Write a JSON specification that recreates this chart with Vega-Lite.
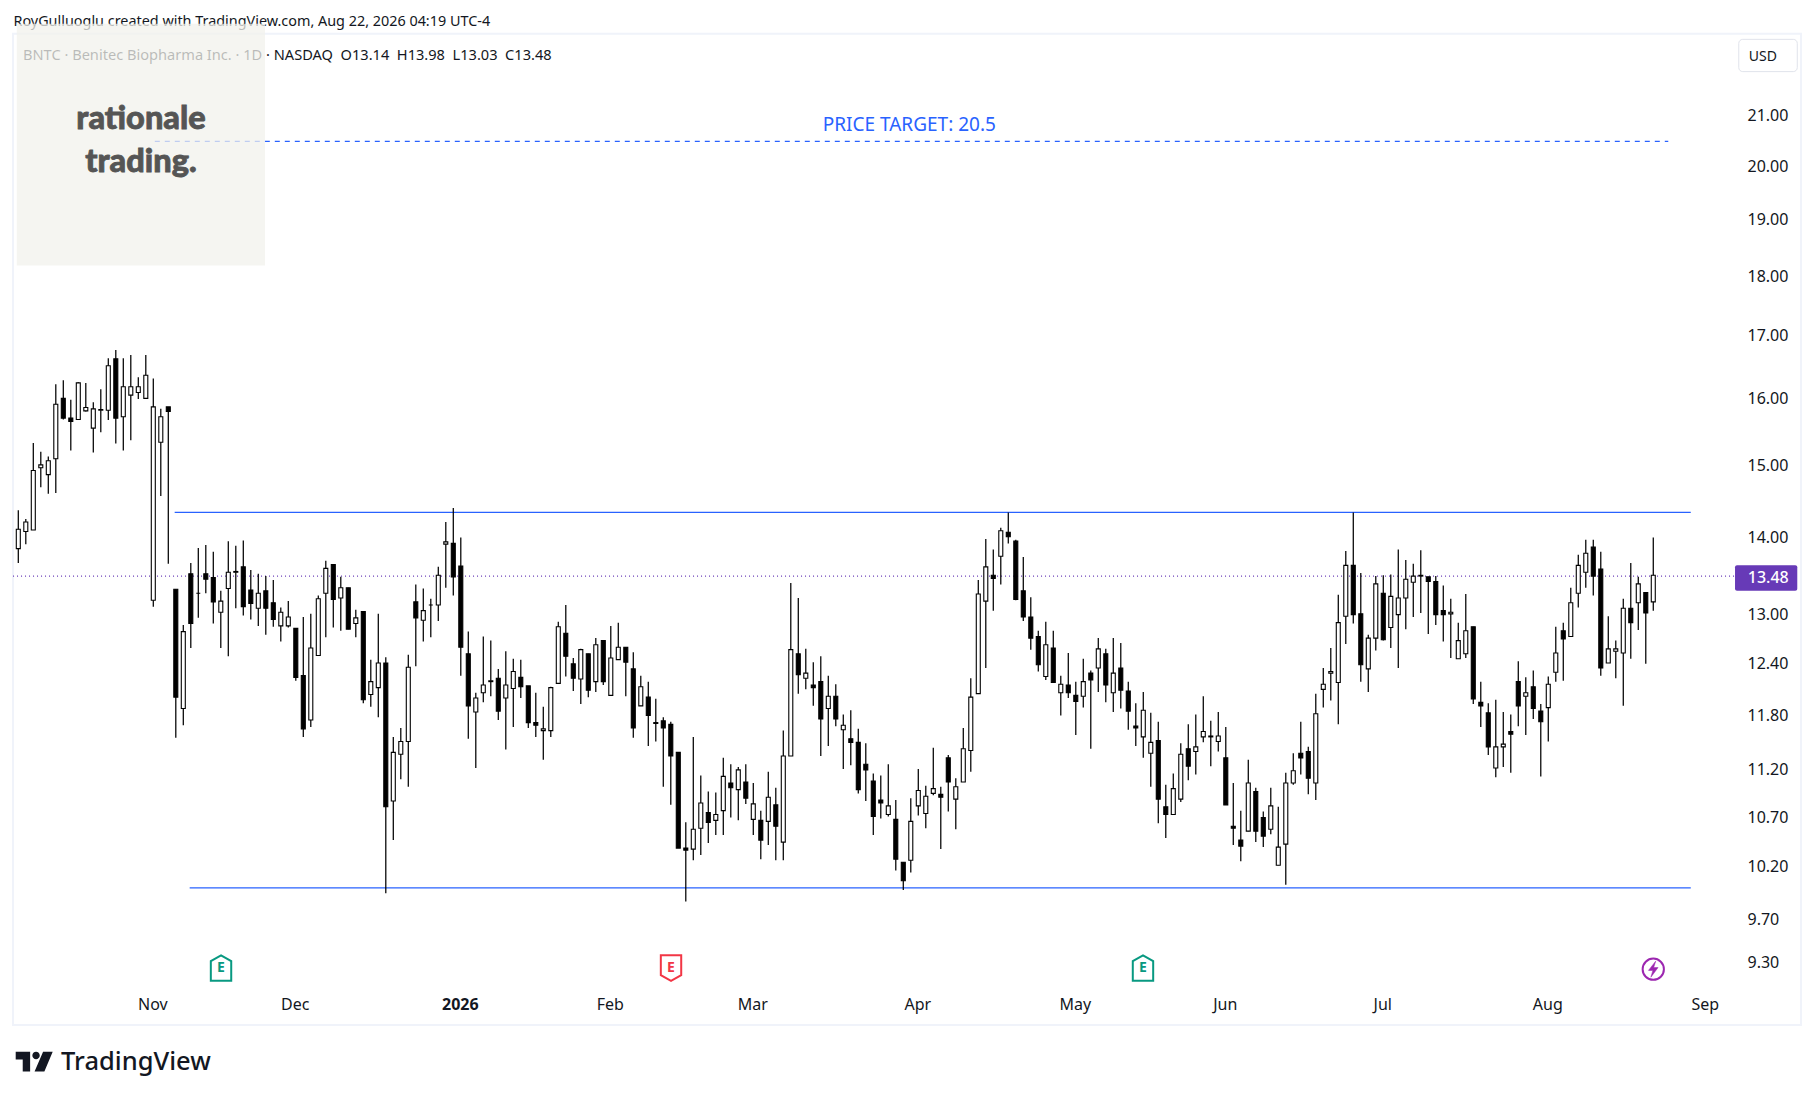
{"$schema":"https://vega.github.io/schema/vega-lite/v6.json","width":1814,"height":1100,"autosize":{"type":"none"},"padding":0,"background":"#ffffff","config":{"view":{"stroke":null}},
"datasets":{"ohlc":[
{"bar":0,"o":13.83,"h":14.35,"l":13.64,"c":14.09},{"bar":1,"o":14.06,"h":14.23,"l":13.89,"c":14.19},{"bar":2,"o":14.08,"h":15.31,"l":14.08,"c":14.91},{"bar":3,"o":14.95,"h":15.18,"l":14.67,"c":14.99},{"bar":4,"o":14.85,"h":15.11,"l":14.58,"c":15.05},{"bar":5,"o":15.08,"h":16.2,"l":14.59,"c":15.89},{"bar":6,"o":15.98,"h":16.26,"l":15.66,"c":15.68},{"bar":7,"o":15.68,"h":15.96,"l":15.2,"c":15.63},{"bar":8,"o":15.66,"h":16.23,"l":15.66,"c":16.22},{"bar":9,"o":15.79,"h":16.22,"l":15.78,"c":15.84},
{"bar":10,"o":15.53,"h":15.92,"l":15.17,"c":15.82},{"bar":11,"o":15.8,"h":16.12,"l":15.47,"c":15.81},{"bar":12,"o":15.8,"h":16.61,"l":15.65,"c":16.49},{"bar":13,"o":16.6,"h":16.74,"l":15.3,"c":15.68},{"bar":14,"o":15.7,"h":16.61,"l":15.2,"c":16.16},{"bar":15,"o":16.03,"h":16.66,"l":15.35,"c":16.16},{"bar":16,"o":16.07,"h":16.31,"l":15.97,"c":16.16},{"bar":17,"o":15.98,"h":16.66,"l":15.98,"c":16.34},{"bar":18,"o":13.16,"h":16.29,"l":13.08,"c":15.85},{"bar":19,"o":15.32,"h":15.82,"l":14.55,"c":15.7},
{"bar":20,"o":15.85,"h":15.85,"l":13.63,"c":15.78},{"bar":21,"o":13.3,"h":13.3,"l":11.53,"c":11.99},{"bar":22,"o":11.86,"h":12.85,"l":11.67,"c":12.77},{"bar":23,"o":13.5,"h":13.64,"l":12.57,"c":12.87},{"bar":24,"o":13.25,"h":13.84,"l":12.94,"c":13.25},{"bar":25,"o":13.5,"h":13.88,"l":13.25,"c":13.43},{"bar":26,"o":13.45,"h":13.79,"l":12.87,"c":13.14},{"bar":27,"o":13.01,"h":13.28,"l":12.57,"c":13.15},{"bar":28,"o":13.31,"h":13.93,"l":12.47,"c":13.52},{"bar":29,"o":13.52,"h":13.87,"l":13.06,"c":13.53},
{"bar":30,"o":13.59,"h":13.94,"l":12.97,"c":13.08},{"bar":31,"o":13.29,"h":13.55,"l":12.92,"c":13.12},{"bar":32,"o":13.06,"h":13.5,"l":12.84,"c":13.25},{"bar":33,"o":13.28,"h":13.47,"l":12.73,"c":13.06},{"bar":34,"o":13.13,"h":13.42,"l":12.83,"c":12.92},{"bar":35,"o":12.84,"h":13.07,"l":12.65,"c":13.01},{"bar":36,"o":12.84,"h":13.15,"l":12.82,"c":12.95},{"bar":37,"o":12.81,"h":12.81,"l":12.18,"c":12.22},{"bar":38,"o":12.24,"h":12.95,"l":11.54,"c":11.63},{"bar":39,"o":11.73,"h":12.99,"l":11.65,"c":12.57},
{"bar":40,"o":12.48,"h":13.22,"l":12.48,"c":13.18},{"bar":41,"o":13.25,"h":13.67,"l":12.7,"c":13.57},{"bar":42,"o":13.62,"h":13.62,"l":12.82,"c":13.17},{"bar":43,"o":13.19,"h":13.46,"l":12.78,"c":13.32},{"bar":44,"o":13.32,"h":13.32,"l":12.8,"c":12.8},{"bar":45,"o":12.87,"h":13.04,"l":12.7,"c":12.94},{"bar":46,"o":13.02,"h":13.02,"l":11.92,"c":11.96},{"bar":47,"o":12.02,"h":12.43,"l":11.88,"c":12.17},{"bar":48,"o":12.1,"h":12.99,"l":11.76,"c":12.39},{"bar":49,"o":12.39,"h":12.46,"l":9.93,"c":10.79},
{"bar":50,"o":10.85,"h":11.54,"l":10.45,"c":11.37},{"bar":51,"o":11.35,"h":11.64,"l":11.08,"c":11.49},{"bar":52,"o":11.49,"h":12.49,"l":11.0,"c":12.34},{"bar":53,"o":13.14,"h":13.36,"l":12.35,"c":12.94},{"bar":54,"o":12.91,"h":13.31,"l":12.65,"c":13.03},{"bar":55,"o":13.1,"h":13.18,"l":12.7,"c":13.1},{"bar":56,"o":13.1,"h":13.59,"l":12.9,"c":13.48},{"bar":57,"o":13.89,"h":14.19,"l":13.32,"c":13.92},{"bar":58,"o":13.9,"h":14.38,"l":13.22,"c":13.46},{"bar":59,"o":13.6,"h":13.98,"l":12.24,"c":12.58},
{"bar":60,"o":12.5,"h":12.77,"l":11.52,"c":11.89},{"bar":61,"o":11.82,"h":12.04,"l":11.2,"c":11.98},{"bar":62,"o":12.04,"h":12.71,"l":11.93,"c":12.13},{"bar":63,"o":12.17,"h":12.66,"l":12.0,"c":12.18},{"bar":64,"o":12.21,"h":12.32,"l":11.73,"c":11.83},{"bar":65,"o":11.98,"h":12.53,"l":11.4,"c":12.13},{"bar":66,"o":12.09,"h":12.44,"l":11.65,"c":12.29},{"bar":67,"o":12.22,"h":12.43,"l":11.98,"c":12.11},{"bar":68,"o":12.12,"h":12.12,"l":11.64,"c":11.7},{"bar":69,"o":11.7,"h":12.04,"l":11.54,"c":11.67},
{"bar":70,"o":11.61,"h":11.88,"l":11.29,"c":11.63},{"bar":71,"o":11.61,"h":12.11,"l":11.54,"c":12.1},{"bar":72,"o":12.15,"h":12.89,"l":12.15,"c":12.83},{"bar":73,"o":12.75,"h":13.1,"l":12.23,"c":12.47},{"bar":74,"o":12.38,"h":12.45,"l":12.06,"c":12.21},{"bar":75,"o":12.2,"h":12.56,"l":11.91,"c":12.55},{"bar":76,"o":12.5,"h":12.5,"l":11.99,"c":12.07},{"bar":77,"o":12.17,"h":12.69,"l":12.05,"c":12.61},{"bar":78,"o":12.66,"h":12.66,"l":12.13,"c":12.17},{"bar":79,"o":12.01,"h":12.84,"l":12.01,"c":12.45},
{"bar":80,"o":12.43,"h":12.88,"l":12.43,"c":12.58},{"bar":81,"o":12.58,"h":12.58,"l":12.0,"c":12.4},{"bar":82,"o":12.32,"h":12.52,"l":11.53,"c":11.64},{"bar":83,"o":11.89,"h":12.24,"l":11.89,"c":12.11},{"bar":84,"o":11.99,"h":12.17,"l":11.44,"c":11.78},{"bar":85,"o":11.7,"h":11.97,"l":11.49,"c":11.69},{"bar":86,"o":11.72,"h":11.76,"l":11.0,"c":11.64},{"bar":87,"o":11.68,"h":11.71,"l":10.81,"c":11.33},{"bar":88,"o":11.37,"h":11.37,"l":10.37,"c":10.37},{"bar":89,"o":10.37,"h":10.63,"l":9.85,"c":10.35},
{"bar":90,"o":10.36,"h":11.54,"l":10.25,"c":10.56},{"bar":91,"o":10.57,"h":11.12,"l":10.3,"c":10.83},{"bar":92,"o":10.73,"h":10.95,"l":10.42,"c":10.63},{"bar":93,"o":10.65,"h":10.94,"l":10.5,"c":10.71},{"bar":94,"o":10.75,"h":11.31,"l":10.5,"c":11.11},{"bar":95,"o":11.04,"h":11.24,"l":10.68,"c":10.99},{"bar":96,"o":10.97,"h":11.21,"l":10.65,"c":11.18},{"bar":97,"o":11.05,"h":11.24,"l":10.82,"c":10.88},{"bar":98,"o":10.66,"h":11.04,"l":10.5,"c":10.82},{"bar":99,"o":10.65,"h":10.75,"l":10.26,"c":10.45},
{"bar":100,"o":10.64,"h":11.16,"l":10.4,"c":10.89},{"bar":101,"o":10.81,"h":10.99,"l":10.25,"c":10.59},{"bar":102,"o":10.43,"h":11.61,"l":10.25,"c":11.33},{"bar":103,"o":11.33,"h":13.38,"l":11.33,"c":12.55},{"bar":104,"o":12.5,"h":13.19,"l":12.03,"c":12.25},{"bar":105,"o":12.21,"h":12.56,"l":12.08,"c":12.27},{"bar":106,"o":12.13,"h":12.4,"l":11.89,"c":12.1},{"bar":107,"o":12.17,"h":12.47,"l":11.33,"c":11.74},{"bar":108,"o":11.86,"h":12.24,"l":11.44,"c":12.0},{"bar":109,"o":12.0,"h":12.14,"l":11.66,"c":11.74},
{"bar":110,"o":11.62,"h":11.79,"l":11.19,"c":11.67},{"bar":111,"o":11.52,"h":11.84,"l":11.23,"c":11.48},{"bar":112,"o":11.48,"h":11.63,"l":10.93,"c":10.97},{"bar":113,"o":11.24,"h":11.47,"l":10.85,"c":11.18},{"bar":114,"o":11.06,"h":11.14,"l":10.5,"c":10.69},{"bar":115,"o":10.86,"h":11.12,"l":10.67,"c":10.83},{"bar":116,"o":10.71,"h":11.24,"l":10.69,"c":10.8},{"bar":117,"o":10.66,"h":10.86,"l":10.15,"c":10.26},{"bar":118,"o":10.23,"h":10.23,"l":9.96,"c":10.05},{"bar":119,"o":10.25,"h":10.88,"l":10.13,"c":10.64},
{"bar":120,"o":10.8,"h":11.19,"l":10.7,"c":10.96},{"bar":121,"o":10.72,"h":11.01,"l":10.57,"c":10.9},{"bar":122,"o":10.93,"h":11.42,"l":10.91,"c":10.98},{"bar":123,"o":10.92,"h":11.0,"l":10.36,"c":10.89},{"bar":124,"o":11.31,"h":11.34,"l":10.74,"c":11.05},{"bar":125,"o":10.87,"h":11.09,"l":10.56,"c":11.0},{"bar":126,"o":11.05,"h":11.64,"l":11.05,"c":11.41},{"bar":127,"o":11.39,"h":12.21,"l":11.16,"c":11.99},{"bar":128,"o":12.03,"h":13.42,"l":12.03,"c":13.24},{"bar":129,"o":13.15,"h":13.96,"l":12.33,"c":13.59},
{"bar":130,"o":13.48,"h":13.82,"l":13.03,"c":13.44},{"bar":131,"o":13.73,"h":14.11,"l":13.36,"c":14.07},{"bar":132,"o":14.05,"h":14.32,"l":13.9,"c":13.99},{"bar":133,"o":13.93,"h":13.95,"l":13.16,"c":13.17},{"bar":134,"o":13.28,"h":13.72,"l":12.9,"c":12.95},{"bar":135,"o":12.95,"h":13.2,"l":12.55,"c":12.69},{"bar":136,"o":12.71,"h":12.78,"l":12.29,"c":12.37},{"bar":137,"o":12.23,"h":12.89,"l":12.19,"c":12.61},{"bar":138,"o":12.57,"h":12.78,"l":12.16,"c":12.16},{"bar":139,"o":12.04,"h":12.24,"l":11.78,"c":12.14},
{"bar":140,"o":12.13,"h":12.51,"l":11.98,"c":12.04},{"bar":141,"o":12.01,"h":12.17,"l":11.56,"c":11.94},{"bar":142,"o":12.0,"h":12.44,"l":11.87,"c":12.17},{"bar":143,"o":12.27,"h":12.3,"l":11.41,"c":12.19},{"bar":144,"o":12.33,"h":12.69,"l":12.05,"c":12.56},{"bar":145,"o":12.5,"h":12.56,"l":11.93,"c":12.13},{"bar":146,"o":12.04,"h":12.69,"l":11.82,"c":12.27},{"bar":147,"o":12.33,"h":12.63,"l":11.86,"c":12.07},{"bar":148,"o":12.06,"h":12.17,"l":11.62,"c":11.83},{"bar":149,"o":11.66,"h":11.92,"l":11.44,"c":11.64},
{"bar":150,"o":11.54,"h":12.05,"l":11.31,"c":11.84},{"bar":151,"o":11.36,"h":11.81,"l":11.0,"c":11.48},{"bar":152,"o":11.5,"h":11.71,"l":10.62,"c":10.87},{"bar":153,"o":10.79,"h":11.02,"l":10.47,"c":10.71},{"bar":154,"o":10.71,"h":11.14,"l":10.71,"c":10.98},{"bar":155,"o":10.87,"h":11.47,"l":10.84,"c":11.35},{"bar":156,"o":11.41,"h":11.68,"l":11.07,"c":11.22},{"bar":157,"o":11.38,"h":11.79,"l":11.13,"c":11.43},{"bar":158,"o":11.54,"h":12.0,"l":11.48,"c":11.6},{"bar":159,"o":11.55,"h":11.72,"l":11.22,"c":11.54},
{"bar":160,"o":11.49,"h":11.82,"l":11.38,"c":11.55},{"bar":161,"o":11.31,"h":11.65,"l":10.81,"c":10.81},{"bar":162,"o":10.59,"h":11.04,"l":10.4,"c":10.57},{"bar":163,"o":10.45,"h":10.75,"l":10.24,"c":10.39},{"bar":164,"o":10.54,"h":11.29,"l":10.54,"c":11.04},{"bar":165,"o":10.95,"h":10.99,"l":10.43,"c":10.54},{"bar":166,"o":10.68,"h":10.74,"l":10.38,"c":10.49},{"bar":167,"o":10.56,"h":10.99,"l":10.51,"c":10.8},{"bar":168,"o":10.2,"h":10.79,"l":10.2,"c":10.38},{"bar":169,"o":10.41,"h":11.15,"l":10.01,"c":11.04},
{"bar":170,"o":11.04,"h":11.36,"l":11.02,"c":11.17},{"bar":171,"o":11.36,"h":11.71,"l":11.13,"c":11.31},{"bar":172,"o":11.38,"h":11.43,"l":10.92,"c":11.09},{"bar":173,"o":11.04,"h":12.03,"l":10.86,"c":11.8},{"bar":174,"o":12.08,"h":12.33,"l":11.87,"c":12.14},{"bar":175,"o":12.27,"h":12.57,"l":11.95,"c":12.29},{"bar":176,"o":12.16,"h":13.23,"l":11.68,"c":12.88},{"bar":177,"o":12.96,"h":13.8,"l":12.62,"c":13.61},{"bar":178,"o":13.61,"h":14.32,"l":12.87,"c":12.98},{"bar":179,"o":12.99,"h":13.51,"l":12.17,"c":12.37},
{"bar":180,"o":12.32,"h":12.73,"l":12.05,"c":12.69},{"bar":181,"o":12.69,"h":13.47,"l":12.54,"c":13.37},{"bar":182,"o":13.25,"h":13.48,"l":12.66,"c":12.67},{"bar":183,"o":12.82,"h":13.49,"l":12.57,"c":13.21},{"bar":184,"o":12.98,"h":13.82,"l":12.33,"c":13.19},{"bar":185,"o":13.19,"h":13.68,"l":12.8,"c":13.43},{"bar":186,"o":13.39,"h":13.63,"l":12.95,"c":13.47},{"bar":187,"o":13.47,"h":13.81,"l":13.0,"c":13.48},{"bar":188,"o":13.46,"h":13.46,"l":12.74,"c":13.4},{"bar":189,"o":13.4,"h":13.47,"l":12.85,"c":12.98},
{"bar":190,"o":13.03,"h":13.35,"l":12.65,"c":12.98},{"bar":191,"o":12.99,"h":13.18,"l":12.45,"c":13.01},{"bar":192,"o":12.44,"h":12.88,"l":12.44,"c":12.66},{"bar":193,"o":12.5,"h":13.24,"l":12.45,"c":12.78},{"bar":194,"o":12.83,"h":12.83,"l":11.91,"c":11.97},{"bar":195,"o":11.93,"h":12.17,"l":11.65,"c":11.89},{"bar":196,"o":11.81,"h":11.92,"l":11.34,"c":11.43},{"bar":197,"o":11.2,"h":11.96,"l":11.1,"c":11.43},{"bar":198,"o":11.43,"h":11.82,"l":11.21,"c":11.46},{"bar":199,"o":11.6,"h":11.79,"l":11.15,"c":11.57},
{"bar":200,"o":12.17,"h":12.41,"l":11.66,"c":11.89},{"bar":201,"o":12.0,"h":12.22,"l":11.56,"c":12.04},{"bar":202,"o":12.11,"h":12.3,"l":11.74,"c":11.86},{"bar":203,"o":11.83,"h":11.91,"l":11.11,"c":11.71},{"bar":204,"o":11.87,"h":12.23,"l":11.49,"c":12.14},{"bar":205,"o":12.28,"h":12.83,"l":12.17,"c":12.51},{"bar":206,"o":12.78,"h":12.88,"l":12.18,"c":12.68},{"bar":207,"o":12.71,"h":13.32,"l":12.71,"c":13.13},{"bar":208,"o":13.25,"h":13.75,"l":13.07,"c":13.61},{"bar":209,"o":13.52,"h":13.95,"l":13.32,"c":13.77},
{"bar":210,"o":13.85,"h":13.95,"l":13.22,"c":13.47},{"bar":211,"o":13.56,"h":13.79,"l":12.24,"c":12.33},{"bar":212,"o":12.39,"h":12.96,"l":12.39,"c":12.56},{"bar":213,"o":12.53,"h":12.66,"l":12.21,"c":12.56},{"bar":214,"o":12.51,"h":13.18,"l":11.89,"c":13.06},{"bar":215,"o":13.06,"h":13.64,"l":12.44,"c":12.88},{"bar":216,"o":13.13,"h":13.46,"l":12.79,"c":13.37},{"bar":217,"o":13.26,"h":13.26,"l":12.38,"c":13.0},{"bar":218,"o":13.14,"h":13.98,"l":13.03,"c":13.48}
]},
"encoding":{
"x":{"field":"bar","type":"quantitative","scale":{"domain":[-2.44,239.43],"nice":false,"zero":false,"padding":0},"axis":{"title":null,"orient":"bottom","offset":-96,"values":[18,37,59,79,98,120,141,161,182,204,225],"labelExpr":"['Nov','Dec','2026','Feb','Mar','Apr','May','Jun','Jul','Aug','Sep'][indexof([18,37,59,79,98,120,141,161,182,204,225],datum.value)]","labelFont":"Noto Sans","labelFontSize":16,"labelColor":"#131722","labelPadding":0,"labelOffset":-1,"labelBaseline":"middle","labelFontWeight":{"condition":{"test":"datum.value==59","value":"bold"},"value":"normal"},"domain":false,"ticks":false,"grid":false,"labelOverlap":false,"labelBound":false,"labelFlush":false}},
"y":{"field":"price","type":"quantitative","scale":{"type":"log","domain":[8.139,23.44],"nice":false,"zero":false},"axis":{"title":null,"orient":"right","offset":-67,"values":[9.3,9.7,10.2,10.7,11.2,11.8,12.4,13,14,15,16,17,18,19,20,21],"format":".2f","labelFont":"Noto Sans","labelFontSize":16,"labelColor":"#131722","labelPadding":0,"labelOffset":1.5,"labelAlign":"left","domain":false,"ticks":false,"grid":false,"labelOverlap":false,"labelBound":false}}
},
"layer":[
{"data":{"values":[{"bar":-0.71,"barEnd":237.7,"price":22.69,"priceEnd":8.748}]},"mark":{"type":"rect","fillOpacity":0,"stroke":"#f0f3fa","strokeWidth":2},"encoding":{"x2":{"field":"barEnd"},"y2":{"field":"priceEnd"}}},
{"data":{"values":[{"bar":229.4,"barEnd":237.2,"price":22.57,"priceEnd":21.88}]},"mark":{"type":"rect","fill":"#ffffff","stroke":"#e0e3eb","strokeWidth":1,"cornerRadius":4},"encoding":{"x2":{"field":"barEnd"},"y2":{"field":"priceEnd"}}},
{"data":{"values":[{"bar":232.6,"price":22.2,"label":"USD"}]},"mark":{"type":"text","font":"Noto Sans","fontSize":14,"color":"#131722","align":"center","baseline":"middle"},"encoding":{"text":{"field":"label"}}},
{"data":{"values":[{"bar":-0.7,"barEnd":229,"price":13.47}]},"mark":{"type":"rule","stroke":"#673ab7","strokeWidth":1.3,"strokeDash":[1,3]},"encoding":{"x2":{"field":"barEnd"}}},
{"data":{"values":[{"bar":20.85,"barEnd":223,"price":14.32},{"bar":22.85,"barEnd":223,"price":9.98}]},"mark":{"type":"rule","stroke":"#2962ff","strokeWidth":1.2},"encoding":{"x2":{"field":"barEnd"}}},
{"data":{"values":[{"bar":18.2,"barEnd":220,"price":20.46}]},"mark":{"type":"rule","stroke":"#2962ff","strokeWidth":1.2,"strokeDash":[5,5]},"encoding":{"x2":{"field":"barEnd"}}},
{"data":{"name":"ohlc"},"mark":{"type":"rule","stroke":"#000000","strokeWidth":1.25},"encoding":{"y":{"field":"l","type":"quantitative"},"y2":{"field":"h"}}},
{"data":{"name":"ohlc"},"mark":{"type":"bar","width":4,"stroke":"#000000","strokeWidth":1.1},"encoding":{"y":{"field":"o","type":"quantitative"},"y2":{"field":"c"},"fill":{"condition":{"test":"datum.c>=datum.o","value":"#ffffff"},"value":"#000000"}}},
{"data":{"values":[{"bar":228.9,"barEnd":237.2,"price":13.61,"priceEnd":13.28}]},"mark":{"type":"rect","fill":"#673ab7","cornerRadius":2},"encoding":{"x2":{"field":"barEnd"},"y2":{"field":"priceEnd"}}},
{"data":{"values":[{"bar":230.6,"price":13.45,"label":"13.48"}]},"mark":{"type":"text","font":"Noto Sans","fontSize":16,"fontWeight":500,"color":"#ffffff","align":"left","baseline":"middle"},"encoding":{"text":{"field":"label"}}},
{"data":{"values":[{"bar":118.8,"price":20.78,"label":"PRICE TARGET: 20.5"}]},"mark":{"type":"text","font":"Noto Sans","fontSize":19,"color":"#2962ff","align":"center","baseline":"middle"},"encoding":{"text":{"field":"label"}}},
{"data":{"values":[{"bar":-0.65,"price":22.95,"label":"RoyGulluoglu created with TradingView.com, Aug 22, 2026 04:19 UTC-4"}]},"mark":{"type":"text","font":"Noto Sans","fontSize":14.4,"color":"#131722","align":"left","baseline":"middle"},"encoding":{"text":{"field":"label"}}},
{"data":{"values":[{"bar":0.63,"price":22.22,"label":"BNTC · Benitec Biopharma Inc. · 1D · NASDAQ\u00a0\u00a0O13.14\u00a0\u00a0H13.98\u00a0\u00a0L13.03\u00a0\u00a0C13.48"}]},"mark":{"type":"text","font":"Noto Sans","fontSize":14.6,"color":"#131722","align":"left","baseline":"middle"},"encoding":{"text":{"field":"label"}}},
{"data":{"values":[{"bar":-0.2,"barEnd":32.9,"price":22.91,"priceEnd":18.16}]},"mark":{"type":"rect","fill":"#f2f1ec","opacity":0.75},"encoding":{"x2":{"field":"barEnd"},"y2":{"field":"priceEnd"}}},
{"data":{"values":[{"bar":16.36,"price":20.9,"label":"rationale"},{"bar":16.36,"price":20.06,"label":"trading."}]},"mark":{"type":"text","font":"Lato","fontSize":32.5,"fontWeight":900,"color":"#555555","stroke":"#555555","strokeWidth":0.8,"align":"center","baseline":"middle"},"encoding":{"text":{"field":"label"}}},
{"data":{"values":[{"bar":27.03,"price":9.24},{"bar":149.96,"price":9.24}]},"mark":{"type":"point","shape":"M0,-1L0.8,-0.55L0.8,1L-0.8,1L-0.8,-0.55Z","size":650,"filled":true,"fill":"#ffffff","stroke":"#089981","strokeWidth":2,"opacity":1}},
{"data":{"values":[{"bar":87.03,"price":9.24}]},"mark":{"type":"point","shape":"M-0.8,-1L0.8,-1L0.8,0.55L0,1L-0.8,0.55Z","size":650,"filled":true,"fill":"#ffffff","stroke":"#f23645","strokeWidth":2,"opacity":1}},
{"data":{"values":[{"bar":27.03,"price":9.24,"label":"E"},{"bar":149.96,"price":9.24,"label":"E"}]},"mark":{"type":"text","font":"Noto Sans","fontSize":14,"fontWeight":"bold","color":"#089981","align":"center","baseline":"middle"},"encoding":{"text":{"field":"label"}}},
{"data":{"values":[{"bar":87.03,"price":9.24,"label":"E"}]},"mark":{"type":"text","font":"Noto Sans","fontSize":14,"fontWeight":"bold","color":"#f23645","align":"center","baseline":"middle"},"encoding":{"text":{"field":"label"}}},
{"data":{"values":[{"bar":218,"price":9.23}]},"mark":{"type":"point","shape":"circle","size":452,"filled":true,"fill":"#ffffff","stroke":"#9c27b0","strokeWidth":2,"opacity":1}},
{"data":{"values":[{"bar":218,"price":9.23}]},"mark":{"type":"point","shape":"M0.3,-1L-0.6,0.15L-0.05,0.15L-0.3,1L0.6,-0.2L0.05,-0.2Z","size":256,"filled":true,"fill":"#9c27b0","stroke":"#9c27b0","strokeWidth":0.5,"opacity":1}},
{"data":{"values":[{"bar":2.12,"price":8.445}]},"mark":{"type":"point","shape":"M-1,-0.54L-0.22,-0.54L-0.22,0.54L-0.62,0.54L-0.62,-0.12L-1,-0.12ZM-0.1,-0.33A0.2,0.2 0 1 1 0.3,-0.33A0.2,0.2 0 1 1 -0.1,-0.33ZM0.48,-0.54L1,-0.54L0.55,0.54L0.02,0.54Z","size":1369,"filled":true,"fill":"#131722","stroke":null,"opacity":1}},
{"data":{"values":[{"bar":5.7,"price":8.44,"label":"TradingView"}]},"mark":{"type":"text","font":"Noto Sans","fontSize":25.5,"fontWeight":500,"color":"#131722","align":"left","baseline":"middle"},"encoding":{"text":{"field":"label"}}}
]}
